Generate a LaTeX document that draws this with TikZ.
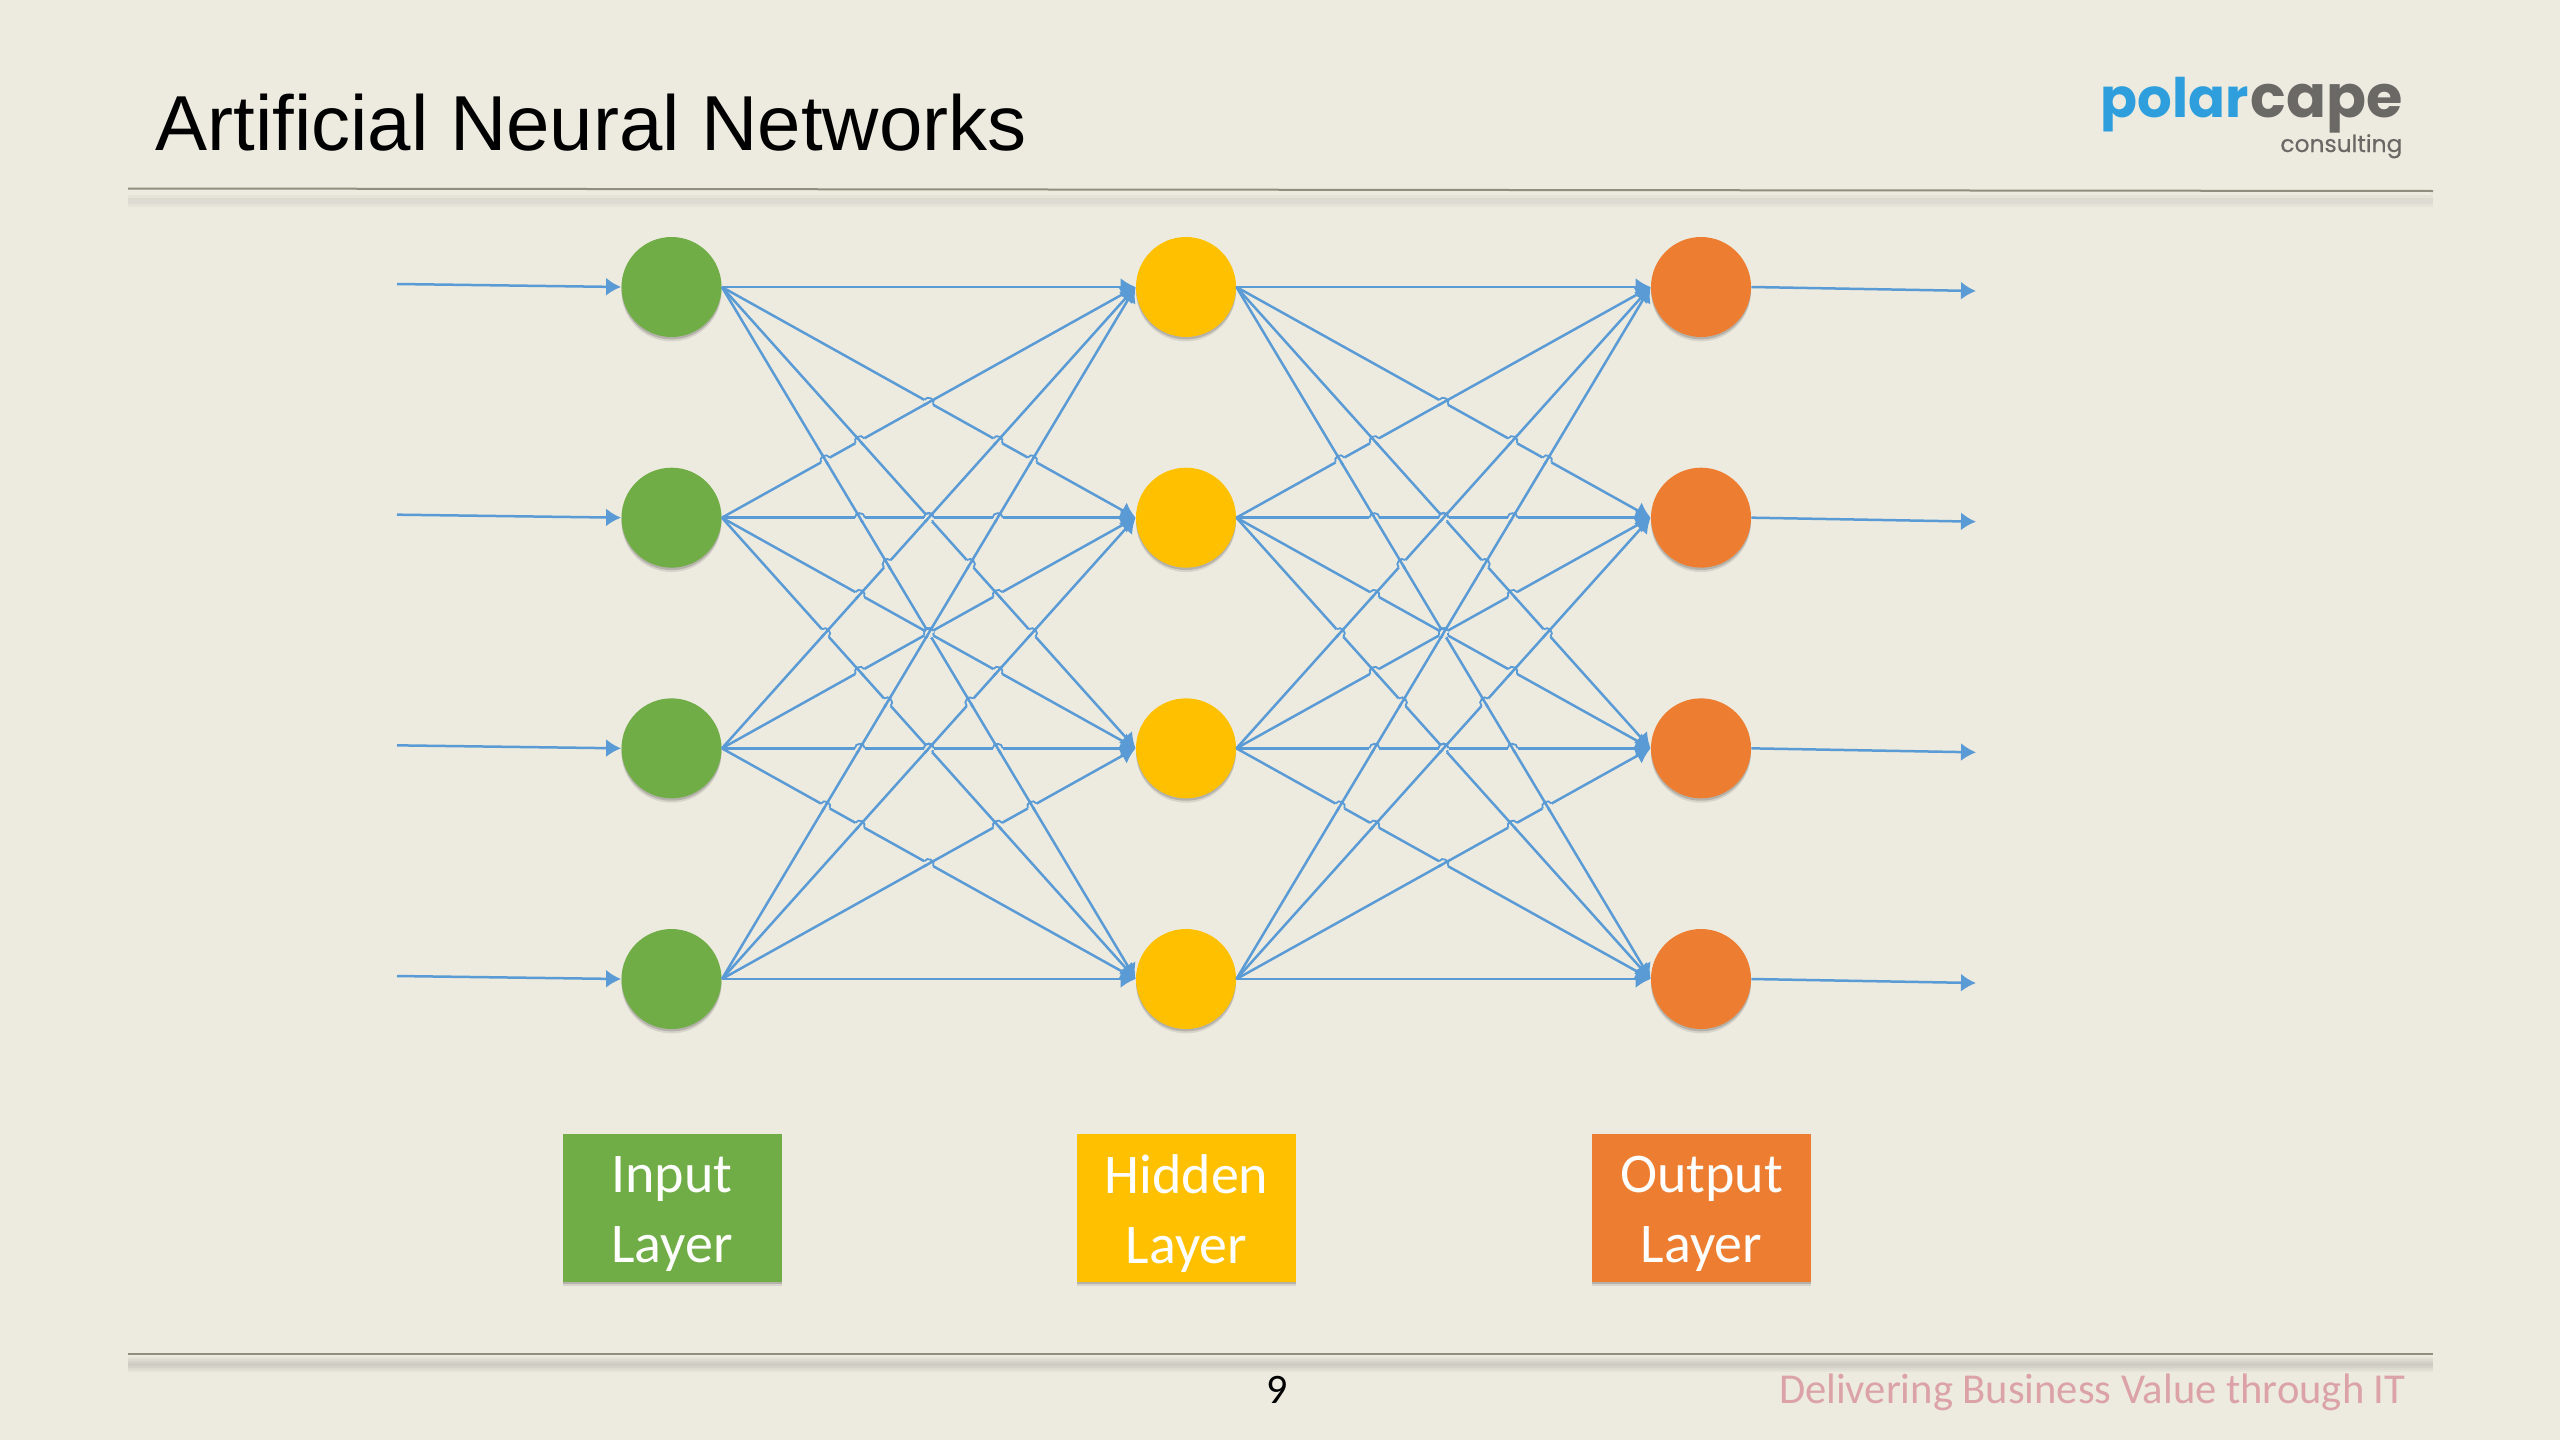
\documentclass[tikz,border=0pt]{standalone}
\usepackage{fontspec}
\usepackage{graphicx}
\setmainfont{Carlito}
\newfontfamily\titlefont{Liberation Sans}
\newfontfamily\logofont{Poppins}
\newfontfamily\logomid[FakeBold=0.4]{Poppins}
\usetikzlibrary{arrows.meta,calc,shadows}
\definecolor{bgc}{HTML}{EDEBE0}
\definecolor{linkc}{HTML}{5B9BD5}
\definecolor{gc}{HTML}{70AD47}
\definecolor{yc}{HTML}{FFC000}
\definecolor{oc}{HTML}{ED7D31}
\definecolor{rulec}{HTML}{8F8E7F}
\definecolor{logob}{HTML}{2E9FDC}
\definecolor{logog}{HTML}{6A6966}
\definecolor{tagc}{HTML}{DBA3A8}
\tikzset{
  softshadow/.style={
    drop shadow={shadow xshift=0pt,shadow yshift=-2.2pt,opacity=.09,fill=black},
    drop shadow={shadow xshift=0pt,shadow yshift=-1.2pt,opacity=.16,fill=black}},
  neuron/.style={circle,minimum size=50pt,inner sep=0pt,softshadow},
  tagbox/.style={rectangle,minimum width=109.5pt,minimum height=74pt,inner sep=0pt,softshadow},
  tagtext/.style={inner sep=0pt,text=white,align=center,font=\fontsize{28}{35}\selectfont},
  link/.style={draw=linkc,line width=1.25pt},
  linkarrow/.style={link,-{Latex[length=7.5pt,width=9pt]}},
  gapline/.style={draw=bgc,line width=1.9pt},
  rulel/.style={draw=rulec,line width=1pt},
  ruleshadow/.style={fill=black,opacity=.03,draw=none}
}
\begin{document}
\begin{tikzpicture}[x=0.5pt,y=-0.5pt]
\useasboundingbox (0,0) rectangle (2560,1440);
\fill[bgc] (0,0) rectangle (2560,1440);
% rules
\foreach \ya/\yb in {195/207,198/204}{\fill[ruleshadow] (128,\ya) rectangle (2433,\yb);}
\foreach \ya/\yb in {1357/1372,1359/1370,1361/1368,1363/1366}{\fill[ruleshadow] (128,\ya) rectangle (2433,\yb);}
\coordinate (ruleTL) at (128,188.5);
\coordinate (ruleTR) at (2433,191);
\coordinate (ruleBL) at (128,1354);
\coordinate (ruleBR) at (2433,1354);
\draw[rulel] (ruleTL) -- (ruleTR);
\draw[rulel] (ruleBL) -- (ruleBR);
% title and logo
\node[anchor=base west,inner sep=0pt,font=\titlefont\fontsize{39}{48}\selectfont,text=black] (title) at (155,150) {Artificial Neural Networks};
\node[anchor=base west,inner sep=0pt,text=logob,font=\logofont\bfseries\fontsize{34}{40}\selectfont] (logoa) at (2100,117) {\resizebox{74pt}{!}{polar}};
\node[anchor=base west,inner sep=0pt,text=logog,font=\logofont\bfseries\fontsize{34}{40}\selectfont] (logob) at (2250,117) {\resizebox{76pt}{!}{cape}};
\node[anchor=base west,inner sep=0pt,text=logog,font=\logomid\fontsize{13}{16}\selectfont] (logoc) at (2280,152) {\resizebox{61pt}{!}{consulting}};
% neurons
\foreach \r in {0,1,2,3}{
  \pgfmathsetmacro\yy{287+230.67*\r}
  \node[neuron,fill=gc] (i\r) at (671.5,\yy) {};
  \node[neuron,fill=yc] (h\r) at (1186,\yy) {};
  \node[neuron,fill=oc] (o\r) at (1701,\yy) {};
  \pgfmathsetmacro\ya{\yy-3}
  \pgfmathsetmacro\yb{\yy+4}
  \coordinate (in\r) at (397,\ya);
  \coordinate (out\r) at (1976,\yb);
  \draw[linkarrow] (in\r) -- (i\r.west);
  \draw[linkarrow] (o\r.east) -- (out\r);
}
% connectors
\foreach \A/\B in {i/h,h/o}{
  \foreach \pa in {0,1,2,3}{
    \foreach \pb in {0,1,2,3}{
      \draw[linkarrow] (\A\pa.east) -- (\B\pb.west);
    }
  }
}
% line jumps at the crossings
\foreach \A/\B in {i/h,h/o}{
 \foreach \pa in {0,1,2}{
  \foreach \pb in {1,2,3}{
   \foreach \pc in {1,2,3}{
    \foreach \pd in {0,1,2}{
     \ifnum\pa<\pc\relax\ifnum\pb>\pd\relax
      \pgfmathsetmacro\tt{(\pc-\pa)/(\pc-\pa+\pb-\pd)}
      \pgfmathtruncatemacro\shallow{abs(\pb-\pa)<=abs(\pd-\pc)?1:0}
      \ifnum\shallow=1\relax
        \edef\hs{\pa}\edef\he{\pb}\edef\os{\pc}\edef\oe{\pd}%
      \else
        \edef\hs{\pc}\edef\he{\pd}\edef\os{\pa}\edef\oe{\pb}%
      \fi
      \pgfmathsetmacro\th{atan((\he-\hs)*230.67/415)}
      \pgfmathsetmacro\ph{atan((\oe-\os)*230.67/415)}
      \pgfmathsetmacro\thu{\th-90}
      \coordinate (P) at ($(\A\hs.east)!\tt!(\B\he.west)$);
      \draw[gapline] ($(P)+(\th:-5)$) -- ($(P)+(\th:5)$);
      \draw[link] ($(P)+(\ph:-6)$) -- ($(P)+(\ph:6)$);
      \draw[draw=linkc,line width=.9pt] ($(P)+(\th:-5)$) .. controls ($(P)+(\th:-5)+(\thu:6)$) and ($(P)+(\th:5)+(\thu:6)$) .. ($(P)+(\th:5)$);
     \fi\fi
    }
   }
  }
 }
}
% layer labels
\node[tagbox,fill=gc] (tagI) at (672,1208) {};
\node[tagbox,fill=yc] (tagH) at (1186.5,1208) {};
\node[tagbox,fill=oc] (tagO) at (1701.5,1208) {};
\node[tagtext] (tagIt) at ($(tagI)+(0,6)$) {Input\\Layer};
\node[tagtext] (tagHt) at ($(tagH)+(0,6)$) {Hidden\\Layer};
\node[tagtext] (tagOt) at ($(tagO)+(0,6)$) {Output\\Layer};
% footer
\node[anchor=base,inner sep=0pt,font=\fontsize{21}{24}\selectfont,text=black] (pagenum) at (1277,1403) {9};
\node[anchor=base east,inner sep=0pt,font=\fontsize{21.3}{24}\selectfont,text=tagc] (slogan) at (2406,1403) {Delivering Business Value through IT};
\end{tikzpicture}
\end{document}
